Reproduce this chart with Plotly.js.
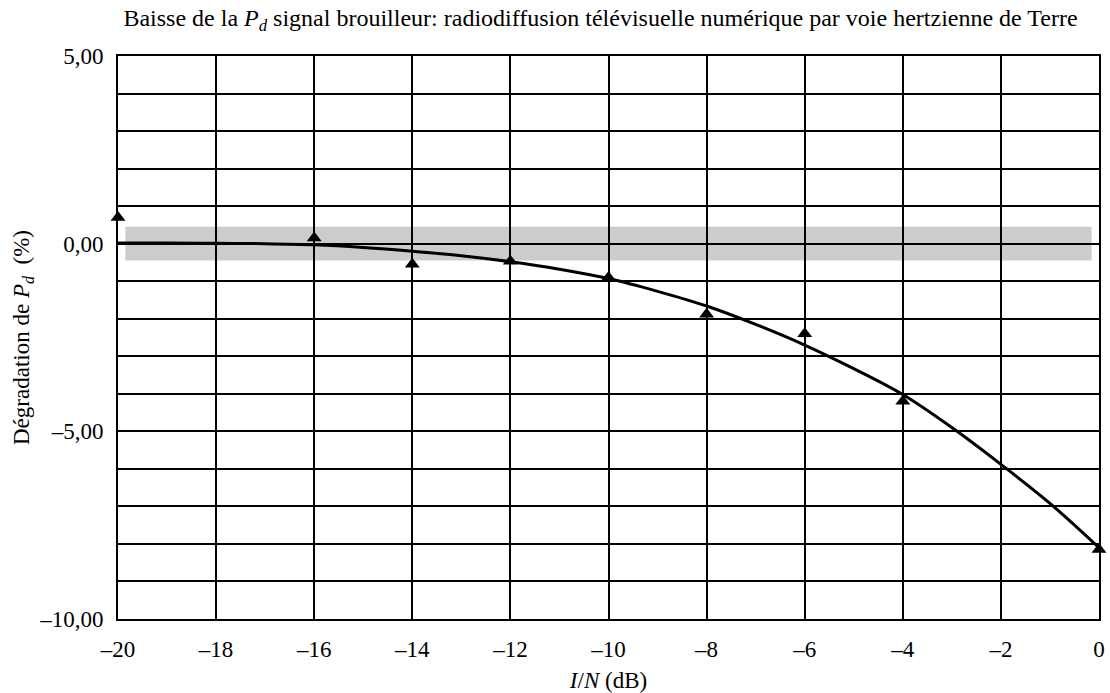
<!DOCTYPE html>
<html>
<head>
<meta charset="utf-8">
<script src="https://cdn.plot.ly/plotly-3.0.1.min.js"></script>
<style>html,body{margin:0;padding:0;background:#fff;}#chart{width:1110px;height:693px;}</style>
</head>
<body>
<div id="chart"></div>
<script>
// Measured points (triangles)
const measX = [-20, -16, -14, -12, -10, -8, -6, -4, 0];
const measY = [0.7, 0.15, -0.55, -0.47, -0.9, -1.88, -2.4, -4.2, -8.15];

// Trend curve
const curveX = [-20, -19, -18, -17, -16, -15, -14, -13, -12, -11, -10, -9, -8, -7, -6, -5, -4, -3, -2, -1, 0];
const curveY = [0.02, 0.02, 0.01, 0.0, -0.03, -0.1, -0.2, -0.32, -0.48, -0.68, -0.93, -1.27, -1.66, -2.15, -2.7, -3.33, -4.02, -4.9, -5.88, -6.92, -8.1];

// Tolerance band
const bandX = [-19.85, -0.15];
const bandY = [-0.45, 0.45];

// Axis ticks
const xTickVals = [-20, -18, -16, -14, -12, -10, -8, -6, -4, -2, 0];
const xTickText = ['–20', '–18', '–16', '–14', '–12', '–10', '–8', '–6', '–4', '–2', '0'];
const yTickVals = [-10, -5, 0, 5];
const yTickText = ['–10,00', '–5,00', '0,00', '5,00'];

const font = 'Liberation Serif, Times New Roman, serif';

const traces = [
  {x: curveX, y: curveY, type: 'scatter', mode: 'lines', line: {color: '#000', width: 3, shape: 'spline', smoothing: 1}, hoverinfo: 'skip'},
  {x: measX, y: measY, type: 'scatter', mode: 'markers', marker: {symbol: 'triangle-up', size: 13, color: '#000'}, cliponaxis: false}
];

const layout = {
  width: 1110, height: 693,
  margin: {l: 118, r: 11, t: 56, b: 74},
  paper_bgcolor: '#fff', plot_bgcolor: '#fff',
  showlegend: false,
  font: {family: font, size: 23, color: '#000'},
  title: {text: 'Baisse de la <i>P</i><sub><i>d</i></sub> signal brouilleur: radiodiffusion télévisuelle numérique par voie hertzienne de Terre',
          font: {family: font, size: 24, color: '#000'}, x: 0.541, xanchor: 'center', y: 0.974, yanchor: 'middle'},
  xaxis: {
    range: [-20, 0], tickvals: xTickVals, ticktext: xTickText,
    showgrid: true, gridcolor: '#000', gridwidth: 2, zeroline: false,
    showline: true, linecolor: '#000', linewidth: 2, mirror: true,
    ticks: 'outside', ticklen: 8, tickcolor: 'rgba(0,0,0,0)', tickfont: {family: font, size: 23},
    automargin: false,
    title: {text: '<i>I</i>/<i>N</i> (dB)', font: {family: font, size: 23}, standoff: 13}
  },
  yaxis: {
    range: [-10, 5], tickvals: yTickVals, ticktext: yTickText,
    showgrid: true, gridcolor: '#000', gridwidth: 2, zeroline: false,
    showline: true, linecolor: '#000', linewidth: 2, mirror: true,
    ticks: 'outside', ticklen: 8, tickcolor: 'rgba(0,0,0,0)', tickfont: {family: font, size: 23},
    minor: {dtick: 1, tick0: 0, showgrid: true, gridcolor: '#000', gridwidth: 2, ticks: ''},
    automargin: false,
    title: {text: 'Dégradation de <i>P</i><sub><i>d</i></sub>  (%)', font: {family: font, size: 23}, standoff: 3}
  },
  shapes: [
    {type: 'rect', xref: 'x', yref: 'y', x0: bandX[0], x1: bandX[1], y0: bandY[0], y1: bandY[1],
     fillcolor: '#cccccc', line: {width: 0}, layer: 'below'}
  ]
};

Plotly.newPlot('chart', traces, layout, {displayModeBar: false, staticPlot: true});
</script>
</body>
</html>
